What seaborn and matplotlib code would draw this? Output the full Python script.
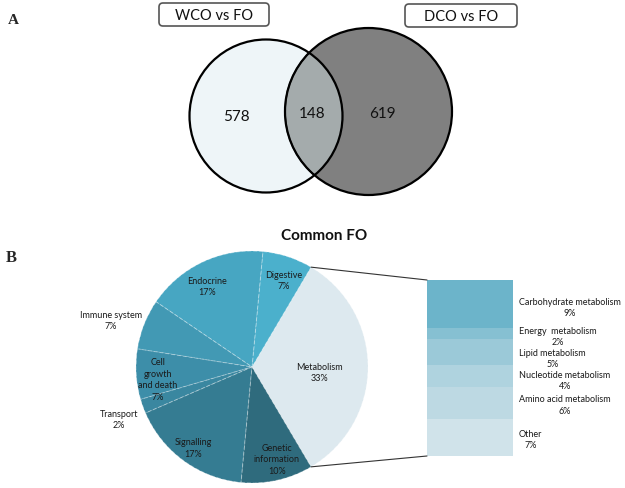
import numpy as np
import matplotlib
matplotlib.use("Agg")
import matplotlib.pyplot as plt
from matplotlib.patches import Circle, FancyBboxPatch, ConnectionPatch, PathPatch
from matplotlib.path import Path
import seaborn as sns

# ---------------- data ----------------
venn_sets = ["WCO vs FO", "DCO vs FO"]
venn_counts = [578, 148, 619]          # left only, common, right only

pie_labels = ["Metabolism", "Digestive", "Endocrine", "Immune system",
              "Cell\ngrowth\nand death", "Transport", "Signalling",
              "Genetic\ninformation"]
pie_values = [33, 7, 17, 7, 7, 2, 17, 10]
pie_colors = ["#dde9ef", "#4bb0cc", "#47a6c2", "#4299b4",
              "#3d8ea9", "#3a87a0", "#357c92", "#2f6b7d"]

bar_labels = ["Carbohydrate metabolism", "Energy  metabolism", "Lipid metabolism",
              "Nucleotide metabolism", "Amino acid metabolism", "Other"]
bar_values = [9, 2, 5, 4, 6, 7]
bar_colors = ["#6cb4ca", "#86c0d2", "#9bc9d8", "#afd3df", "#bdd9e3", "#d0e3ea"]

# ---------------- style ----------------
sns.set_theme(style="white")
plt.rcParams["font.family"] = ["Lato", "DejaVu Sans"]

W, H = 625, 489
fig = plt.figure(figsize=(W / 100, H / 100), dpi=100)
fig.patch.set_facecolor("white")

# base axes in pixel coordinates (Venn part and annotations)
ax0 = fig.add_axes([0, 0, 1, 1])
ax0.set_xlim(0, W)
ax0.set_ylim(H, 0)
ax0.axis("off")

# ---- Venn diagram ----
lc, lr = (266, 117), 76.5
rc, rr = (368.5, 112.5), 83.5
ax0.add_patch(Circle(lc, lr, facecolor="#eef5f8", edgecolor="none", zorder=1))
ax0.add_patch(Circle(rc, rr, facecolor="#808080", edgecolor="none", zorder=1))
inter = Circle(lc, lr, facecolor="#a4abac", edgecolor="none", zorder=2)
ax0.add_patch(inter)
inter.set_clip_path(Circle(rc, rr, transform=ax0.transData))

# right outline inside the left circle: thinner and grey
right_edge_in = Circle(rc, rr, facecolor="none", edgecolor="#3a3a3a", lw=1.1, zorder=3)
ax0.add_patch(right_edge_in)
right_edge_in.set_clip_path(Circle(lc, lr, transform=ax0.transData))

# right outline outside the left circle
outside_patch = Circle(rc, rr, facecolor="none", edgecolor="black", lw=1.6, zorder=3)
ax0.add_patch(outside_patch)
theta = np.linspace(0, 2 * np.pi, 200)
outer = [(0, 0), (W, 0), (W, H), (0, H), (0, 0)]
inner = [(lc[0] + lr * np.cos(t), lc[1] - lr * np.sin(t)) for t in theta]
verts = outer + inner[::-1]
codes = [Path.MOVETO] + [Path.LINETO] * 3 + [Path.CLOSEPOLY] + \
        [Path.MOVETO] + [Path.LINETO] * (len(inner) - 1)
outside_patch.set_clip_path(PathPatch(Path(verts, codes), transform=ax0.transData))

ax0.add_patch(Circle(lc, lr, facecolor="none", edgecolor="black", lw=1.6, zorder=4))

for (x, y), n in zip([(236, 117), (312, 114), (382, 114)], venn_counts):
    ax0.text(x, y, str(n), ha="center", va="center", fontsize=11, color="#111", zorder=5)

for (x0, x1, y0, y1), name in zip([(159, 269, 4, 27), (405, 517, 5, 28)], venn_sets):
    box = FancyBboxPatch((x0, y0), x1 - x0, y1 - y0,
                         boxstyle="round,pad=0,rounding_size=4",
                         facecolor="white", edgecolor="#555555", lw=1.2, zorder=5)
    ax0.add_patch(box)
    ax0.text((x0 + x1) / 2, (y0 + y1) / 2 + 0.5, name, ha="center", va="center",
             fontsize=10.5, color="#111", zorder=6)

ax0.text(13, 21, "A", fontsize=11, fontweight="bold", family="Liberation Serif",
         ha="center", va="center")
ax0.text(11, 258, "B", fontsize=12, fontweight="bold", family="Liberation Serif",
         ha="center", va="center")
ax0.text(324, 236, "Common FO", fontsize=11, fontweight="bold", ha="center",
         va="center", color="#111")

# ---- Pie ----
pcx, pcy, pr = 252, 368, 116
axp = fig.add_axes([(pcx - pr) / W, (H - pcy - pr) / H, 2 * pr / W, 2 * pr / H])
start = -pie_values[0] / 100 * 360 / 2
wedges, _ = axp.pie(pie_values, colors=pie_colors, startangle=start, counterclock=True,
                    wedgeprops=dict(edgecolor=(1, 1, 1, 0.35), linewidth=0.7,
                                    linestyle=(0, (4, 2))))
axp.set_xlim(-1, 1)
axp.set_ylim(-1, 1)
axp.axis("off")

label_r = [0.58, 0.80, 0.80, 1.28, 0.82, 1.23, 0.86, 0.82]
label_dang = [-4.3, -2.2, 3.8, 3.2, 3.7, 1.5, 0.0, 2.6]
for w, lab, v, r, da in zip(wedges, pie_labels, pie_values, label_r, label_dang):
    ang = np.deg2rad((w.theta1 + w.theta2) / 2 + da)
    axp.text(r * np.cos(ang), r * np.sin(ang), f"{lab}\n{v}%", ha="center", va="center",
             fontsize=6.5, color="#1a1a1a", linespacing=1.35, clip_on=False)

# ---- Stacked bar ----
bx0, bx1, by0, by1 = 427, 513, 281, 457
axb = fig.add_axes([bx0 / W, (H - by1) / H, (bx1 - bx0) / W, (by1 - by0) / H])
bottoms = np.concatenate([[0], np.cumsum(bar_values)[:-1]])
axb.bar([0] * len(bar_values), bar_values, bottom=bottoms, width=1.0,
        color=bar_colors, edgecolor="none")
axb.set_xlim(-0.5, 0.5)
axb.set_ylim(sum(bar_values), 0)
axb.axis("off")
label_dy = [0.5, 0.45, 1.1, 0.75, 0.35, 0.35]
for lab, v, b, dy in zip(bar_labels, bar_values, bottoms, label_dy):
    axb.text(1.07, b + v / 2 + dy, f"{lab}\n{v}%", transform=axb.get_yaxis_transform(),
             ha="left", va="center", multialignment="center", fontsize=6.5,
             color="#1a1a1a", linespacing=1.3, clip_on=False)

# ---- connection lines ----
t_top = np.deg2rad(wedges[0].theta2)
t_bot = np.deg2rad(wedges[0].theta1)
for (px, py), (qx, qy) in [((np.cos(t_top), np.sin(t_top)), (0, 1)),
                           ((np.cos(t_bot), np.sin(t_bot)), (0, 0))]:
    con = ConnectionPatch(xyA=(px, py), coordsA=axp.transData,
                          xyB=(qx, qy), coordsB=axb.transAxes,
                          color="#333333", lw=0.8)
    fig.add_artist(con)

fig.savefig("out.png", dpi=100)
